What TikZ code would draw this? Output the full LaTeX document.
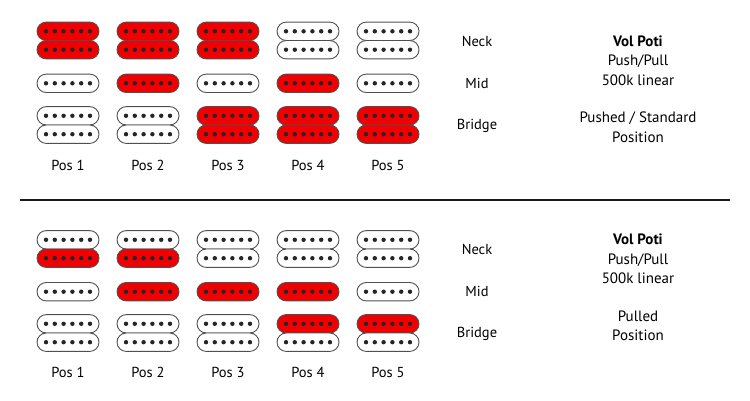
\documentclass[tikz,border=0pt]{standalone}
\usepackage{fontspec}
\setmainfont{PT Sans}
\definecolor{coilred}{RGB}{240,0,0}
\definecolor{coilline}{RGB}{80,80,80}
\tikzset{
  x=1pt,y=-1pt,
  coil/.style={draw=coilline,line width=0.9pt,rounded corners=9.2pt},
  lbl/.style={font=\fontsize{14.5}{17}\selectfont,inner sep=0pt,anchor=center},
  poti/.style={font=\fontsize{15}{19.5}\selectfont,inner sep=0pt,align=center,anchor=center},
  pics/single/.style={code={
    \draw[coil,fill=#1] (-31,-9.2) rectangle (31,9.2);
    \foreach \i in {-22,-13.2,-4.4,4.4,13.2,22} {\fill[black!85] (\i,0) circle (2.2);}
  }},
  pics/hum/.style 2 args={code={
    \pic at (0,-9.2) {single=#1};
    \pic at (0,9.2) {single=#2};
  }}
}
\begin{document}
\begin{tikzpicture}
\useasboundingbox (0,0) rectangle (750,400);
% ---------- top half ----------
\foreach \x/\n/\m/\b in {68/coilred/white/white,148/coilred/coilred/white,228/coilred/white/coilred,308/white/coilred/coilred,388/white/white/coilred}{
  \pic at (\x,40.5) {hum={\n}{\n}};
  \pic at (\x,83.3) {single=\m};
  \pic at (\x,125) {hum={\b}{\b}};
}
\foreach \x/\k in {68/1,148/2,228/3,308/4,388/5}{
  \node[lbl] (tp\k) at (\x,165) {Pos \k};
}
\node[lbl] (tneck) at (477,41) {Neck};
\node[lbl] (tmid) at (477,83) {Mid};
\node[lbl] (tbridge) at (477,126) {Bridge};
\node[poti] (tpoti) at (638,60.5) {\textbf{Vol Poti}\\Push/Pull\\500k linear};
\node[poti] (tstate) at (638,127) {Pushed / Standard\\Position};
% ---------- separator ----------
\coordinate (sepL) at (20,200);
\coordinate (sepR) at (730,200);
\draw[line width=2pt,color=black!90] (sepL) -- (sepR);
% ---------- bottom half ----------
\foreach \x/\nt/\nb/\m/\bt in {68/white/coilred/white/white,148/white/coilred/coilred/white,228/white/white/coilred/white,308/white/white/coilred/coilred,388/white/white/white/coilred}{
  \pic at (\x,249) {hum={\nt}{\nb}};
  \pic at (\x,291.7) {single=\m};
  \pic at (\x,333) {hum={\bt}{white}};
}
\foreach \x/\k in {68/1,148/2,228/3,308/4,388/5}{
  \node[lbl] (bp\k) at (\x,372) {Pos \k};
}
\node[lbl] (bneck) at (477,249) {Neck};
\node[lbl] (bmid) at (477,291) {Mid};
\node[lbl] (bbridge) at (477,334) {Bridge};
\node[poti] (bpoti) at (638,259) {\textbf{Vol Poti}\\Push/Pull\\500k linear};
\node[poti] (bstate) at (638,326) {Pulled\\Position};
\end{tikzpicture}
\end{document}
